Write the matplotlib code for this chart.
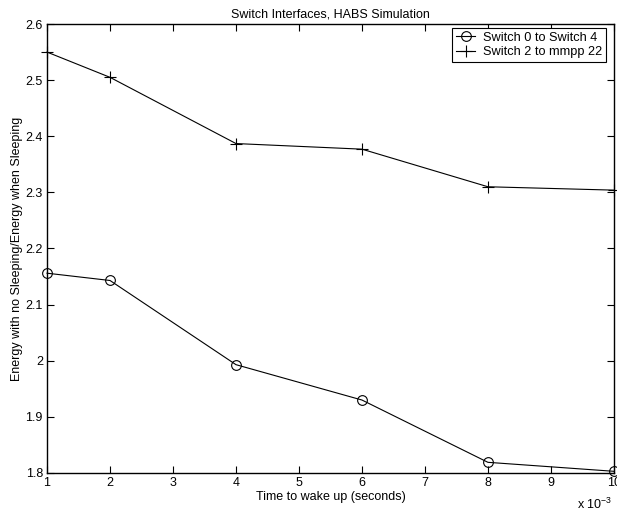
import matplotlib
matplotlib.use('Agg')
import matplotlib.pyplot as plt

plt.rcParams['font.family'] = ['Liberation Sans', 'DejaVu Sans']
plt.rcParams['mathtext.fontset'] = 'custom'
plt.rcParams['mathtext.rm'] = 'Liberation Sans'
plt.rcParams['mathtext.it'] = 'Liberation Sans'

wake_ms = [1, 2, 4, 6, 8, 10]
sw0_sw4 = [2.156, 2.143, 1.993, 1.930, 1.819, 1.803]
sw2_mmpp22 = [2.550, 2.505, 2.387, 2.377, 2.310, 2.304]

xticks = list(range(1, 11))
yticks = [1.8, 1.9, 2.0, 2.1, 2.2, 2.3, 2.4, 2.5, 2.6]
ytick_labels = ['1.8', '1.9', '2', '2.1', '2.2', '2.3', '2.4', '2.5', '2.6']

fig = plt.figure(figsize=(6.17, 5.12), dpi=100)
ax = fig.add_axes([0.0762, 0.0762, 0.9188, 0.8769])

ax.plot(wake_ms, sw0_sw4, color='black', linewidth=0.8, marker='o',
        markersize=7, markerfacecolor='none', markeredgewidth=0.8,
        label='Switch 0 to Switch 4', clip_on=False)
ax.plot(wake_ms, sw2_mmpp22, color='black', linewidth=0.8, marker='+',
        markersize=8, markeredgewidth=0.8,
        label='Switch 2 to mmpp 22', clip_on=False)

ax.set_xlim(1, 10)
ax.set_ylim(1.8, 2.6)
ax.set_xticks(xticks)
ax.set_xticklabels([str(t) for t in xticks])
ax.set_yticks(yticks)
ax.set_yticklabels(ytick_labels)
ax.tick_params(direction='in', top=True, right=True, labelsize=9,
               length=5, width=0.8, pad=3)
for s in ax.spines.values():
    s.set_linewidth(1.0)

ax.set_title('Switch Interfaces, HABS Simulation', fontsize=9, pad=5)
ax.set_xlabel('Time to wake up (seconds)', fontsize=9, labelpad=1)
ax.set_ylabel('Energy with no Sleeping/Energy when Sleeping', fontsize=9, labelpad=2)
ax.text(0.997, -0.052, r'x 10$^{-3}$', transform=ax.transAxes, ha='right',
        va='top', fontsize=9)

leg = ax.legend(loc='upper right', bbox_to_anchor=(0.986, 0.991),
                fontsize=9.2, fancybox=False, framealpha=1,
                edgecolor='black', borderaxespad=0, handlelength=1.5,
                borderpad=0.3, labelspacing=0.2, handletextpad=0.6)
leg.get_frame().set_linewidth(0.8)

fig.savefig('out.png', dpi=100)
